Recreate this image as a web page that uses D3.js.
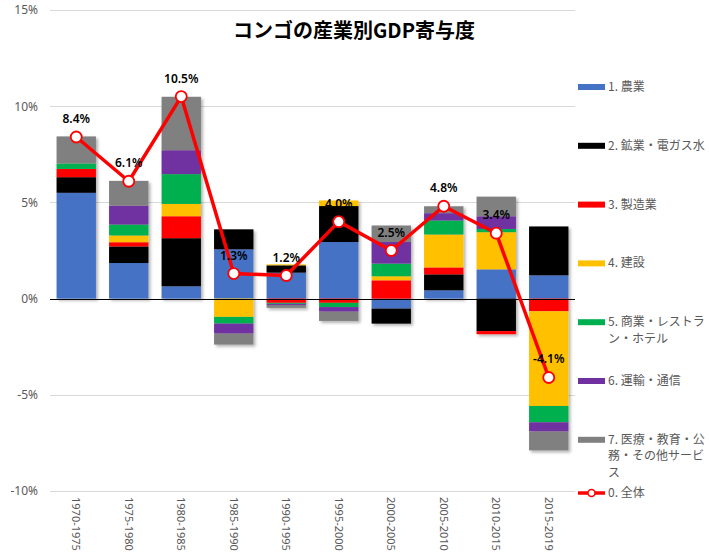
<!DOCTYPE html>
<html>
<head>
<meta charset="utf-8">
<script src="https://cdn.jsdelivr.net/npm/d3@7"></script>
<style>
  body { margin: 0; background: #fff; }
  svg { font-family: "Noto Sans CJK JP", "Noto Sans", sans-serif; }
</style>
</head>
<body>
<div id="chart"></div>
<script>
// periods on the x axis
var categories = ["1970-1975","1975-1980","1980-1985","1985-1990","1990-1995","1995-2000","2000-2005","2005-2010","2010-2015","2015-2019"];

// contributions by sector (percentage points)
var agriculture   = [5.50, 1.85, 0.64, 2.56, 1.35, 2.94, -0.52, 0.43, 1.52, 1.21];
var mining        = [0.81, 0.86, 2.50, 1.04, 0.38, 1.87, -0.78, 0.83, -1.69, 2.54];
var manufacturing = [0.43, 0.22, 1.14, 0.00, -0.22, -0.22, 0.95, 0.36, -0.16, -0.66];
var construction  = [0.00, 0.35, 0.64, -0.95, 0.05, 0.29, 0.21, 1.71, 1.93, -4.92];
var trade         = [0.28, 0.57, 1.55, -0.35, -0.05, -0.22, 0.66, 0.73, 0.17, -0.85];
var transport     = [0.00, 0.98, 1.24, -0.52, -0.06, -0.24, 1.12, 0.38, 0.66, -0.48];
var services      = [1.41, 1.29, 2.78, -0.57, -0.15, -0.48, 0.86, 0.36, 1.02, -0.98];
var total         = [8.4, 6.1, 10.5, 1.3, 1.2, 4.0, 2.5, 4.8, 3.4, -4.1];

// legend names, already broken into lines as in the reference
var seriesNames = [["1. 農業"],["2. 鉱業・電ガス水"],["3. 製造業"],["4. 建設"],["5. 商業・レストラ","ン・ホテル"],["6. 運輸・通信"],["7. 医療・教育・公","務・その他サービ","ス"]];
var lineName = "0. 全体";
var yTicks = [-10, -5, 0, 5, 10, 15];

var colors = ["#4472C4","#000000","#FF0000","#FFC000","#00B050","#7030A0","#808080"];
var lineColor = "#FF0000";

var width = 709, height = 553;
var svg = d3.select("#chart").append("svg")
    .attr("width", width)
    .attr("height", height);

var defs = svg.append("defs");
var shadow = defs.append("filter").attr("id", "shadow")
    .attr("x", "-20%").attr("y", "-20%").attr("width", "140%").attr("height", "140%");
shadow.append("feDropShadow")
    .attr("dx", 2).attr("dy", 2).attr("stdDeviation", 1.5)
    .attr("flood-color", "#000").attr("flood-opacity", 0.3);

var x = d3.scaleBand()
    .domain(categories)
    .range([50, 575])
    .paddingInner(0.25)
    .paddingOuter(0.125);

var y = d3.scaleLinear()
    .domain([-10, 15])
    .range([491, 10]);

// gridlines
svg.append("g")
  .selectAll("line")
  .data(yTicks.filter(function(d){ return d !== 0; }))
  .enter().append("line")
    .attr("x1", 50).attr("x2", 575)
    .attr("y1", function(d){ return Math.round(y(d)) + 0.5; })
    .attr("y2", function(d){ return Math.round(y(d)) + 0.5; })
    .attr("stroke", "#d9d9d9")
    .attr("stroke-width", 1);

// y axis labels
var yAxis = svg.append("g")
    .attr("transform", "translate(50,0)")
    .call(d3.axisLeft(y).tickValues(yTicks).tickSize(0).tickPadding(12)
      .tickFormat(function(d){ return d + "%"; }));
yAxis.select(".domain").remove();
yAxis.selectAll("text")
    .attr("fill", "#595959")
    .style("font-size", "12px")
    .style("font-family", "'Noto Sans', sans-serif");

// stacked bars
var rows = categories.map(function(c, i){
  return { cat: c, s0: agriculture[i], s1: mining[i], s2: manufacturing[i], s3: construction[i],
           s4: trade[i], s5: transport[i], s6: services[i] };
});
var keys = ["s0","s1","s2","s3","s4","s5","s6"];
var stacked = d3.stack().keys(keys).offset(d3.stackOffsetDiverging)(rows);

var barsG = svg.append("g").attr("filter", "url(#shadow)");
barsG.selectAll("g")
  .data(stacked)
  .enter().append("g")
    .attr("fill", function(d, i){ return colors[i]; })
  .selectAll("rect")
  .data(function(d){ return d; })
  .enter().append("rect")
    .attr("x", function(d){ return x(d.data.cat); })
    .attr("width", x.bandwidth())
    .attr("y", function(d){ return y(Math.max(d[0], d[1])); })
    .attr("height", function(d){ return Math.abs(y(d[0]) - y(d[1])); });

// zero line
svg.append("line")
    .attr("x1", 50).attr("x2", 575)
    .attr("y1", Math.round(y(0)) + 0.5).attr("y2", Math.round(y(0)) + 0.5)
    .attr("stroke", "#000").attr("stroke-width", 1);

// x axis labels (rotated)
svg.append("g")
  .selectAll("text")
  .data(categories)
  .enter().append("text")
    .attr("transform", function(d){
      return "translate(" + (x(d) + x.bandwidth() / 2 - 4) + ",497) rotate(90)";
    })
    .attr("text-anchor", "start")
    .attr("fill", "#595959")
    .style("font-size", "11px")
    .style("font-family", "'Noto Sans', sans-serif")
    .text(function(d){ return d; });

// total line
var line = d3.line()
    .x(function(d, i){ return x(categories[i]) + x.bandwidth() / 2; })
    .y(function(d){ return y(d); });

svg.append("path")
    .datum(total)
    .attr("d", line)
    .attr("fill", "none")
    .attr("stroke", lineColor)
    .attr("stroke-width", 3.5)
    .attr("stroke-linejoin", "round");

svg.append("g")
  .selectAll("circle")
  .data(total)
  .enter().append("circle")
    .attr("cx", function(d, i){ return x(categories[i]) + x.bandwidth() / 2; })
    .attr("cy", function(d){ return y(d); })
    .attr("r", 5.5)
    .attr("fill", "#fff")
    .attr("stroke", lineColor)
    .attr("stroke-width", 1.8);

svg.append("g")
  .selectAll("text")
  .data(total)
  .enter().append("text")
    .attr("x", function(d, i){ return x(categories[i]) + x.bandwidth() / 2; })
    .attr("y", function(d){ return y(d) - 14; })
    .attr("text-anchor", "middle")
    .attr("fill", "#000")
    .style("font-size", "12px")
    .style("font-weight", "600")
    .style("font-family", "'Noto Sans', sans-serif")
    .text(function(d){ return d.toFixed(1) + "%"; });

// title
svg.append("text")
    .attr("x", 354).attr("y", 38)
    .attr("text-anchor", "middle")
    .attr("fill", "#000")
    .style("font-size", "20px")
    .style("font-weight", "bold")
    .text("コンゴの産業別GDP寄与度");

// legend
var legend = svg.append("g");
seriesNames.forEach(function(lines, i){
  var ly = 87 + i * 58.8;
  var item = legend.append("g").attr("transform", "translate(578," + ly + ")");
  item.append("rect")
      .attr("x", 0).attr("y", -3).attr("width", 27).attr("height", 6)
      .attr("fill", colors[i]);
  var t = item.append("text")
      .attr("x", 30).attr("y", 4)
      .attr("fill", "#595959")
      .style("font-size", "12px");
  lines.forEach(function(l, j){
    t.append("tspan")
      .attr("x", 30)
      .attr("dy", j === 0 ? 0 : 16.5)
      .text(l);
  });
});
var lineItem = legend.append("g").attr("transform", "translate(578,493)");
lineItem.append("line")
    .attr("x1", 0).attr("x2", 27).attr("y1", 0).attr("y2", 0)
    .attr("stroke", lineColor).attr("stroke-width", 3.5);
lineItem.append("circle")
    .attr("cx", 13.5).attr("cy", 0).attr("r", 3.5)
    .attr("fill", "#fff").attr("stroke", lineColor).attr("stroke-width", 1.5);
lineItem.append("text")
    .attr("x", 30).attr("y", 4)
    .attr("fill", "#595959")
    .style("font-size", "12px")
    .text(lineName);
</script>
</body>
</html>
